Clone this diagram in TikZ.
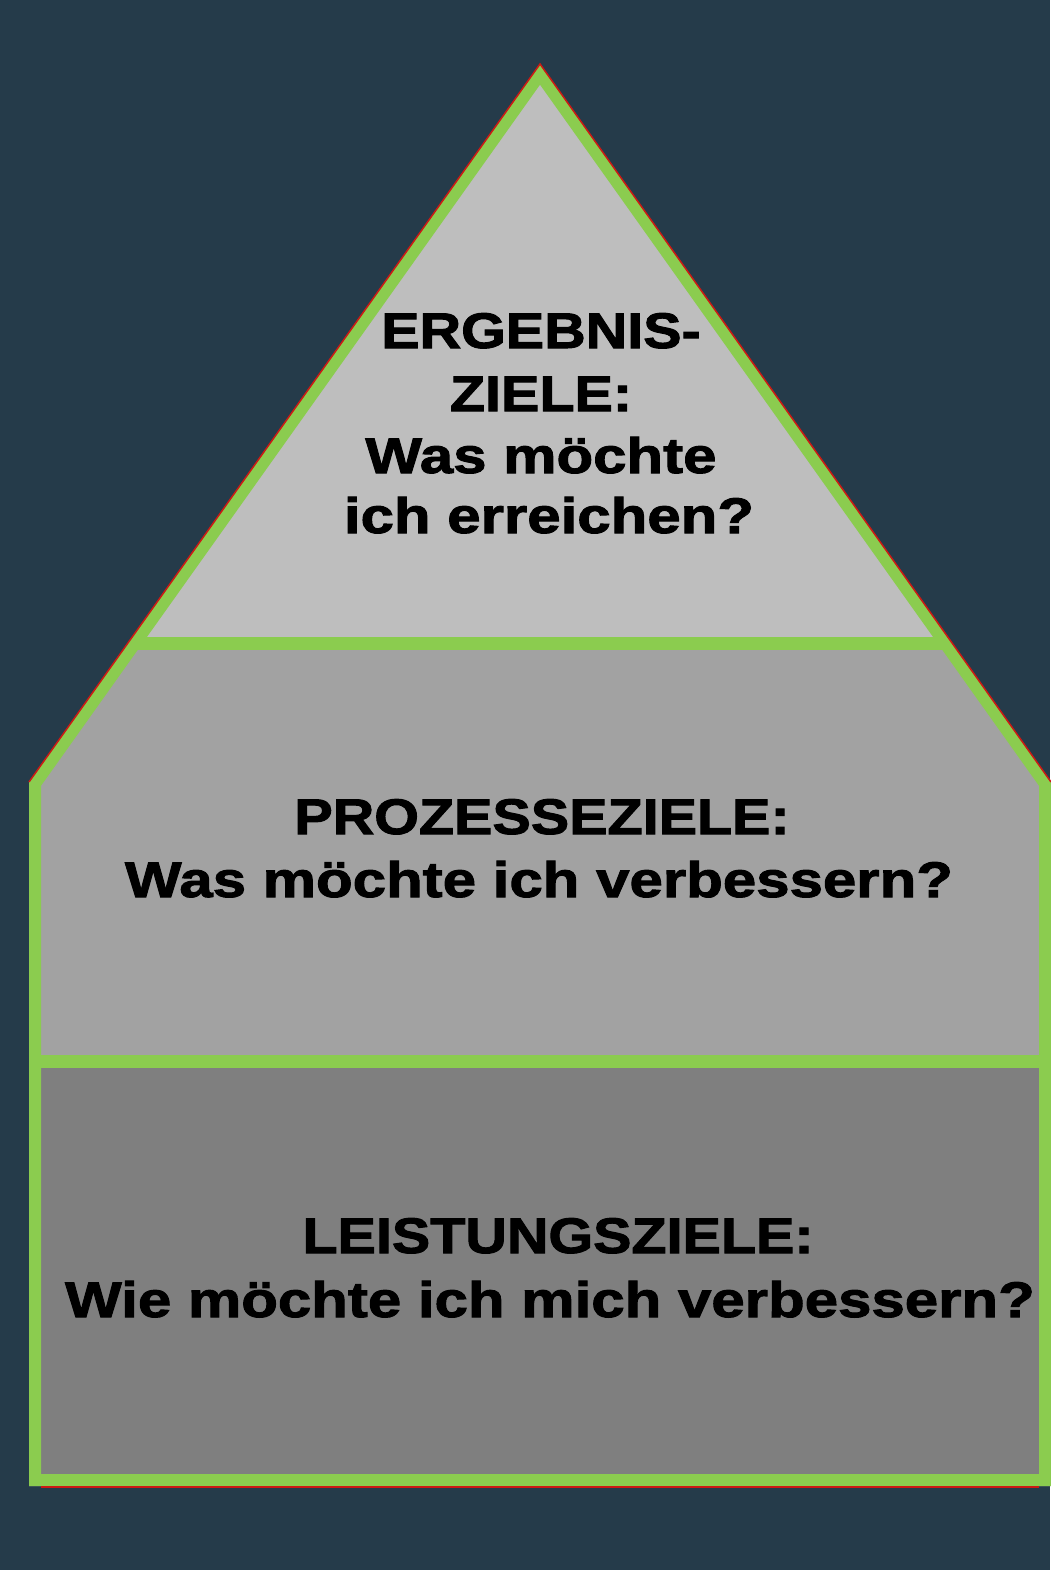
\documentclass[tikz,border=0pt]{standalone}
\usepackage{fontspec}
\newfontfamily\heavycaps{Liberation Sans Bold}[FakeStretch=1.15, FakeBold=2]
\newfontfamily\heavylow{Liberation Sans Bold}[FakeStretch=1.2, FakeBold=2]
\definecolor{bgc}{RGB}{37,59,74}
\definecolor{topc}{RGB}{190,190,190}
\definecolor{midc}{RGB}{162,162,162}
\definecolor{botc}{RGB}{127,127,127}
\definecolor{grn}{RGB}{139,204,79}
\definecolor{redc}{RGB}{205,25,20}
\tikzset{
  caps text/.style={font=\heavycaps\fontsize{50}{63}\selectfont, text=black, inner sep=0pt, anchor=base},
  low text/.style={font=\heavylow\fontsize{50}{63}\selectfont, text=black, inner sep=0pt, anchor=base},
  green band/.style={draw=grn, line width=13pt},
}
\begin{document}
\begin{tikzpicture}[x=1pt,y=-1pt]
\fill[bgc] (0,0) rectangle (1050,1570);
\useasboundingbox (0,0) rectangle (1050,1570);
\coordinate (A) at (540,64);
\coordinate (L) at (29,782);
\coordinate (R) at (1051,782);
\coordinate (BL) at (29,1486);
\coordinate (BR) at (1051,1486);
\coordinate (TL) at (128,643);
\coordinate (TR) at (952,643);
\coordinate (ML) at (29,1061);
\coordinate (MR) at (1051,1061);
\begin{scope}
  \clip (A) -- (R) -- (BR) -- (BL) -- (L) -- cycle;
  \fill[midc] (A) -- (R) -- (BR) -- (BL) -- (L) -- cycle;
  \fill[topc] (A) -- (TR) -- (TL) -- cycle;
  \fill[botc] (ML) rectangle (BR);
  \draw[grn, line width=24pt, line join=miter] (A) -- (R) -- (BR) -- (BL) -- (L) -- cycle;
  \draw[green band] (TL) -- (TR);
  \draw[green band] (ML) -- (MR);
\end{scope}
\draw[redc, line width=1.5pt] (L) -- (A) -- (R);
\draw[redc, line width=2pt] ([xshift=12pt,yshift=-1pt]BL) -- ([xshift=-12pt,yshift=-1pt]BR);
\node[caps text] (t1) at (541,348) {ERGEBNIS-};
\node[caps text] (t2) at (541,411) {ZIELE:};
\node[low text] (t3) at (541,473) {Was möchte};
\node[low text] (t4) at (549,533) {ich erreichen?};
\node[caps text] (m1) at (542,834) {PROZESSEZIELE:};
\node[low text] (m2) at (539,897) {Was möchte ich verbessern?};
\node[caps text] (b1) at (558,1253) {LEISTUNGSZIELE:};
\node[low text] (b2) at (550,1317) {Wie möchte ich mich verbessern?};
\end{tikzpicture}
\end{document}
